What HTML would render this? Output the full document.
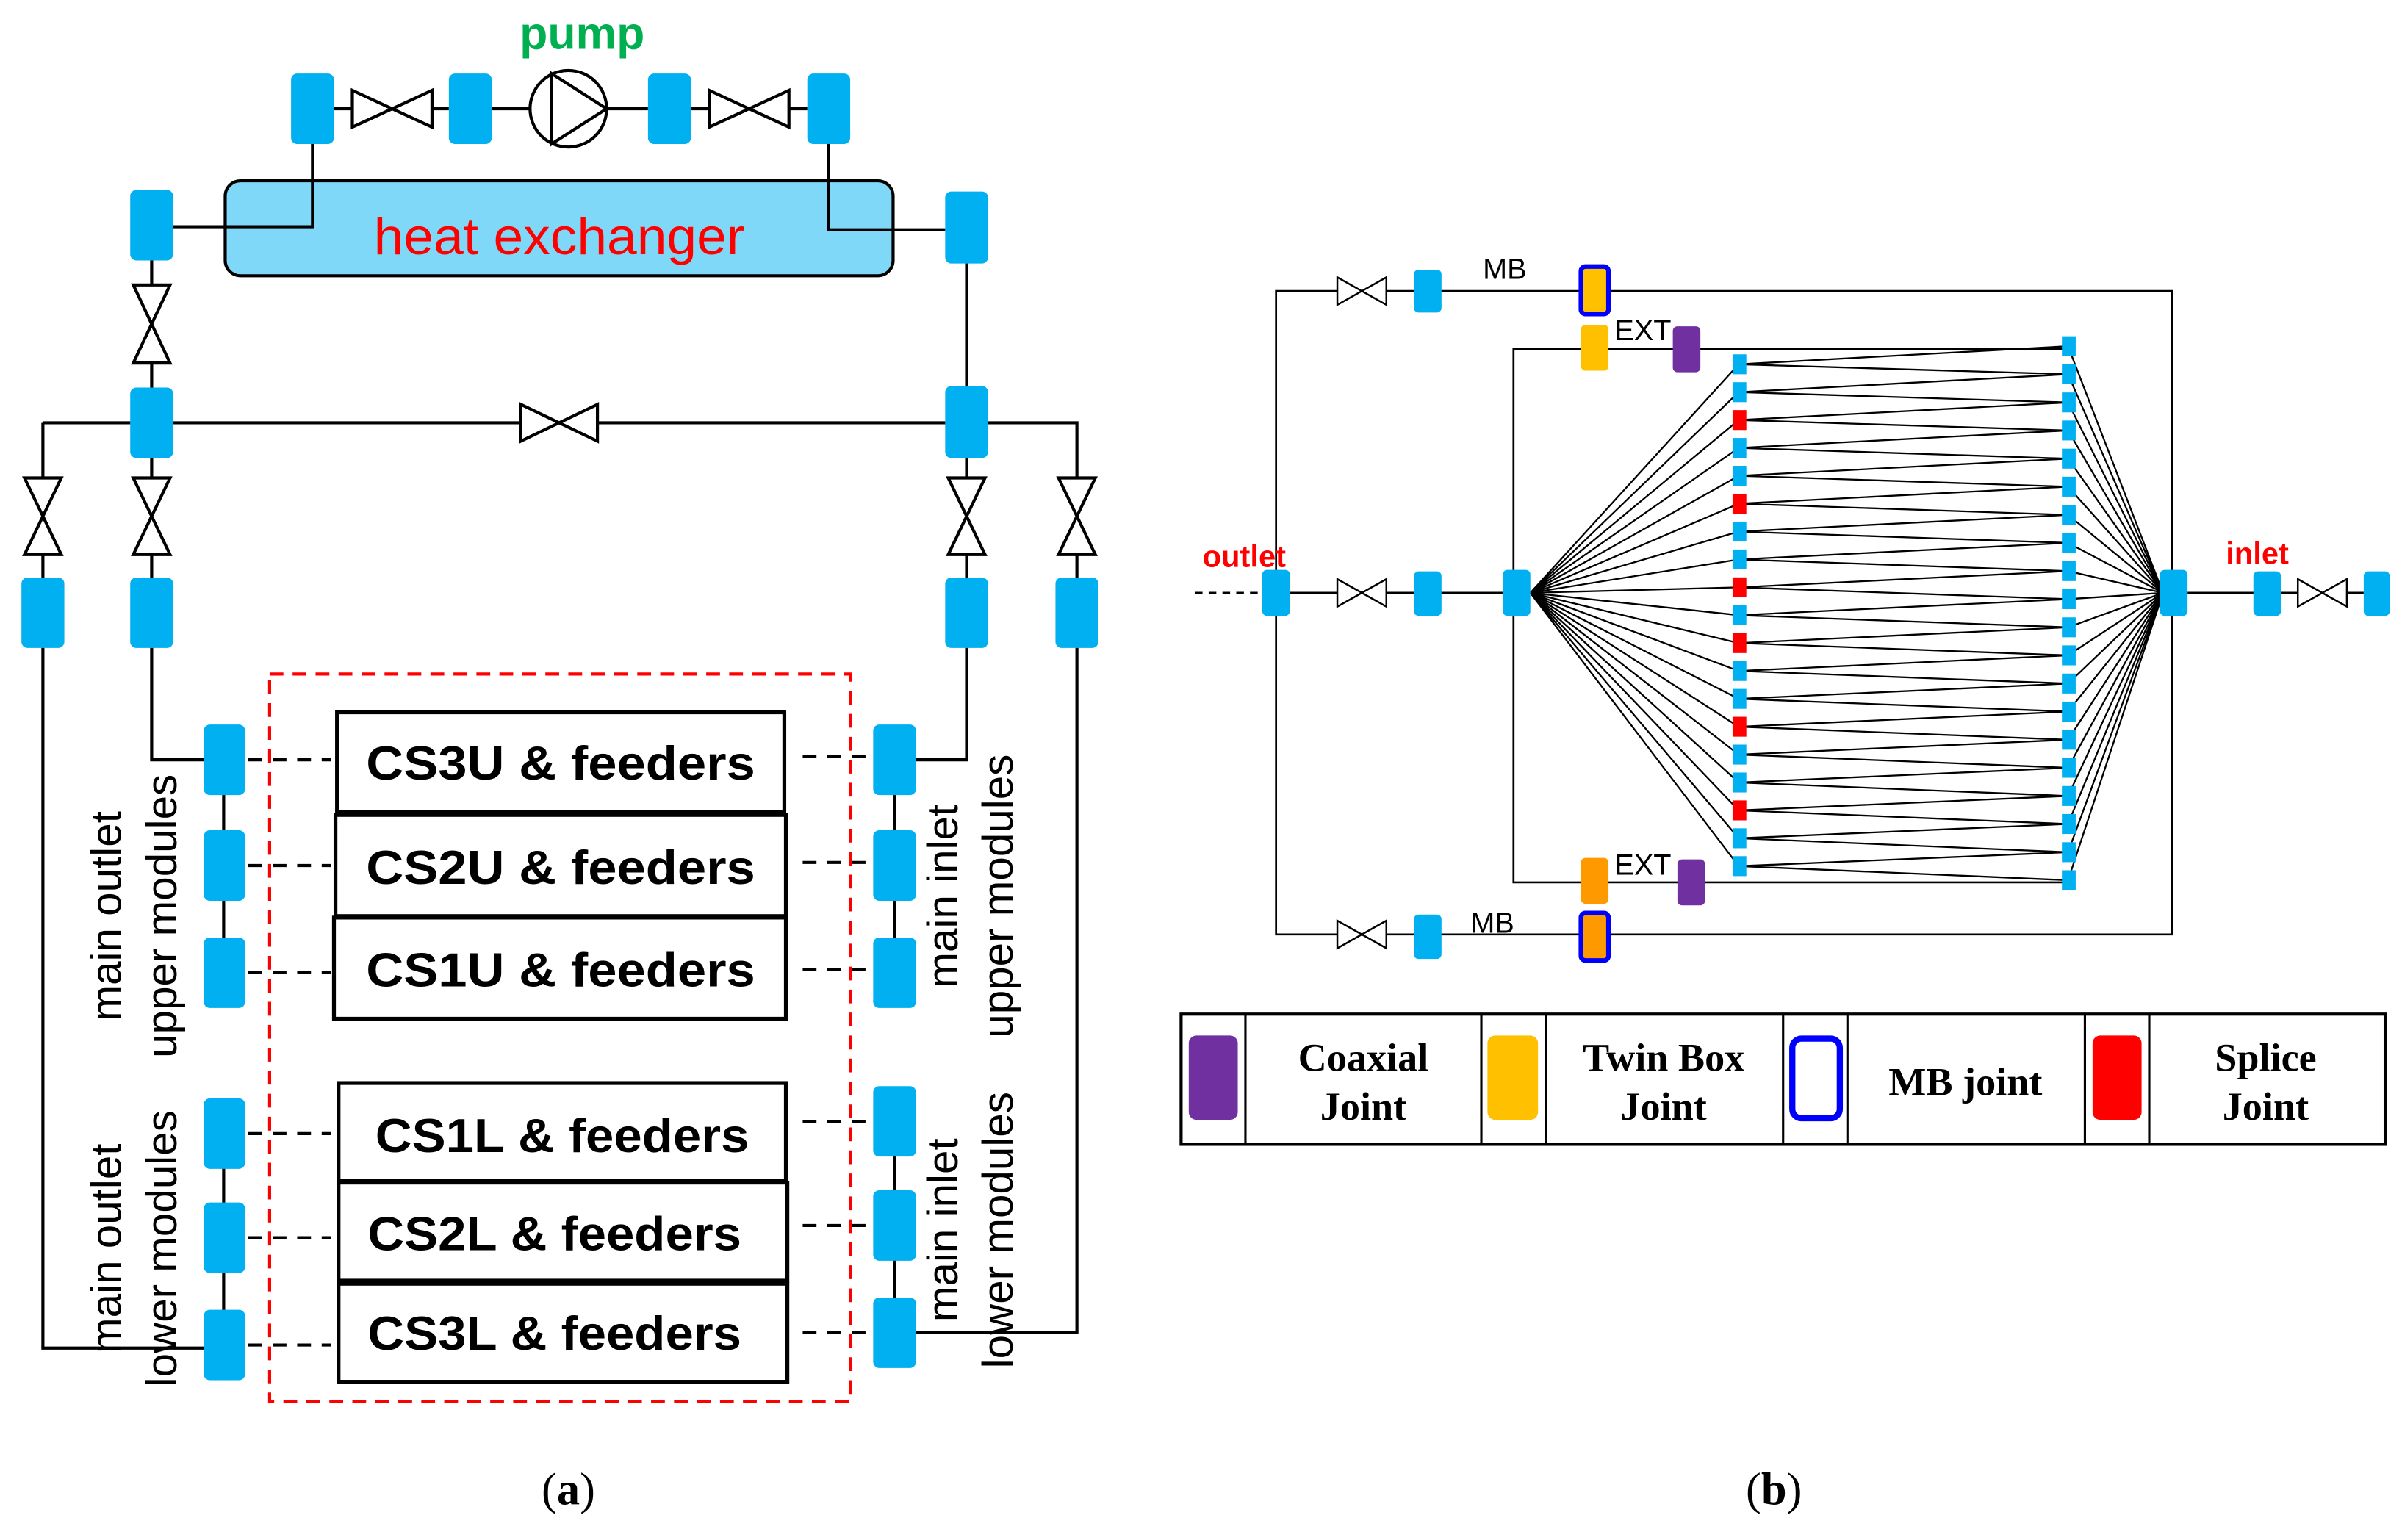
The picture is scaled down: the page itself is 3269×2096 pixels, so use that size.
<!DOCTYPE html>
<html><head><meta charset="utf-8"><style>html,body{margin:0;padding:0;background:#fff}svg{display:block}</style></head>
<body>
<svg xmlns="http://www.w3.org/2000/svg" width="3269" height="2096" viewBox="0 0 1568 1005.3" preserveAspectRatio="none">
<defs>
<style>
.b{fill:#00b0f0}
.ln{stroke:#000;stroke-width:2;fill:none}
.th{stroke:#000;stroke-width:1.3;fill:none}
.v{stroke:#000;stroke-width:2;fill:#fff}
.cs{font-family:"Liberation Sans",sans-serif;font-weight:bold;font-size:31px;text-anchor:middle}
.rl{font-family:"Liberation Sans",sans-serif;font-size:28px;text-anchor:middle}
.sm{font-family:"Liberation Sans",sans-serif;font-size:19px}
.lg{font-family:"Liberation Serif",serif;font-weight:bold;font-size:26px;text-anchor:middle}
</style>
</defs>
<rect width="1568" height="1005.3" fill="#fff"/>

<!-- ===== Panel (a) ===== -->
<text x="380" y="32" font-family="Liberation Sans,sans-serif" font-weight="bold" font-size="30" fill="#00b050" text-anchor="middle">pump</text>
<path class="ln" d="M218 71H293M321 71H346M396 71H423M451 71H527"/>
<path class="v" d="M230 59L282 83V59L230 83Z"/>
<path class="v" d="M463 59L515 83V59L463 83Z"/>
<circle cx="371" cy="71" r="25" fill="#fff" stroke="#000" stroke-width="2"/>
<path class="ln" d="M360 48V94L396 71Z"/>
<rect class="b" x="190" y="48" width="28" height="46" rx="4"/>
<rect class="b" x="293" y="48" width="28" height="46" rx="4"/>
<rect class="b" x="423" y="48" width="28" height="46" rx="4"/>
<rect class="b" x="527" y="48" width="28" height="46" rx="4"/>
<rect x="147" y="118" width="436" height="62" rx="10" fill="#80d8f8" stroke="#000" stroke-width="2"/>
<text x="365" y="166" font-family="Liberation Sans,sans-serif" font-size="34" fill="#ff0000" text-anchor="middle" textLength="242" lengthAdjust="spacingAndGlyphs">heat exchanger</text>
<path class="ln" d="M204 94V148H113M541 94V150H617"/>
<rect class="b" x="85" y="124" width="28" height="46" rx="4"/>
<path class="ln" d="M99 170V253"/>
<path class="v" d="M87 186L111 237H87L111 186Z"/>
<rect class="b" x="85" y="253" width="28" height="46" rx="4"/>
<rect class="b" x="617" y="125" width="28" height="47" rx="4"/>
<path class="ln" d="M631 172V253"/>
<rect class="b" x="617" y="252" width="28" height="47" rx="4"/>
<path class="ln" d="M28 276V377M28 276H85M113 276H340M390 276H617M645 276H703V377"/>
<path class="v" d="M340 264L390 288V264L340 288Z"/>
<path class="ln" d="M99 299V377M631 299V377"/>
<path class="v" d="M16 312L40 362H16L40 312Z"/>
<path class="v" d="M87 312L111 362H87L111 312Z"/>
<path class="v" d="M619 312L643 362H619L643 312Z"/>
<path class="v" d="M691 312L715 362H691L715 312Z"/>
<rect class="b" x="14" y="377" width="28" height="46" rx="4"/>
<rect class="b" x="85" y="377" width="28" height="46" rx="4"/>
<rect class="b" x="617" y="377" width="28" height="46" rx="4"/>
<rect class="b" x="689" y="377" width="28" height="46" rx="4"/>
<path class="ln" d="M28 423V880H133M99 423V496H133M631 423V496H598M703 423V870H598"/>
<path class="ln" d="M146 496V635M146 740V878M584 496V635M584 732V870"/>
<rect x="176" y="440" width="379" height="475" fill="none" stroke="#ff0000" stroke-width="2" stroke-dasharray="9,6"/>
<g stroke="#000" stroke-width="2" stroke-dasharray="9,7">
<path d="M162 496H216M162 565H216M162 635H216M162 740H216M162 808H216M162 878H216"/>
<path d="M524 494H568M524 563H568M524 633H568M524 732H568M524 800H568M524 870H568"/>
</g>
<g class="b">
<rect x="133" y="473" width="27" height="46" rx="4"/>
<rect x="133" y="542" width="27" height="46" rx="4"/>
<rect x="133" y="612" width="27" height="46" rx="4"/>
<rect x="133" y="717" width="27" height="46" rx="4"/>
<rect x="133" y="785" width="27" height="46" rx="4"/>
<rect x="133" y="855" width="27" height="46" rx="4"/>
<rect x="570" y="473" width="28" height="46" rx="4"/>
<rect x="570" y="542" width="28" height="46" rx="4"/>
<rect x="570" y="612" width="28" height="46" rx="4"/>
<rect x="570" y="709" width="28" height="46" rx="4"/>
<rect x="570" y="777" width="28" height="46" rx="4"/>
<rect x="570" y="847" width="28" height="46" rx="4"/>
</g>
<g fill="#fff" stroke="#000" stroke-width="2.5">
<rect x="220" y="465" width="292" height="65"/>
<rect x="219" y="532" width="294" height="66"/>
<rect x="218" y="599" width="295" height="66"/>
<rect x="221" y="707" width="292" height="64"/>
<rect x="221" y="772" width="293" height="64"/>
<rect x="221" y="838" width="293" height="64"/>
</g>
<text class="cs" x="366" y="509" textLength="254" lengthAdjust="spacingAndGlyphs">CS3U &amp; feeders</text>
<text class="cs" x="366" y="577" textLength="254" lengthAdjust="spacingAndGlyphs">CS2U &amp; feeders</text>
<text class="cs" x="366" y="644" textLength="254" lengthAdjust="spacingAndGlyphs">CS1U &amp; feeders</text>
<text class="cs" x="367" y="752" textLength="244" lengthAdjust="spacingAndGlyphs">CS1L &amp; feeders</text>
<text class="cs" x="362" y="816" textLength="244" lengthAdjust="spacingAndGlyphs">CS2L &amp; feeders</text>
<text class="cs" x="362" y="881" textLength="244" lengthAdjust="spacingAndGlyphs">CS3L &amp; feeders</text>
<text class="rl" transform="translate(79,598) rotate(-90)">main outlet</text>
<text class="rl" transform="translate(115,598) rotate(-90)">upper modules</text>
<text class="rl" transform="translate(79,815) rotate(-90)">main outlet</text>
<text class="rl" transform="translate(115,815) rotate(-90)">lower modules</text>
<text class="rl" transform="translate(625,585) rotate(-90)">main inlet</text>
<text class="rl" transform="translate(661,585) rotate(-90)">upper modules</text>
<text class="rl" transform="translate(625,803) rotate(-90)">main inlet</text>
<text class="rl" transform="translate(661,803) rotate(-90)">lower modules</text>
<text x="371" y="982" font-family="Liberation Serif,serif" font-size="30" text-anchor="middle">(<tspan font-weight="bold">a</tspan>)</text>
<text x="1158" y="982" font-family="Liberation Serif,serif" font-size="30" text-anchor="middle">(<tspan font-weight="bold">b</tspan>)</text>

<!-- ===== Panel (b) ===== -->
<path class="th" d="M873 190H833V610H873M905 190H1031M1050 190H1418V610H1050M1031 610H905"/>
<path class="th" d="M842 387H873M905 387H981"/>
<path d="M780 387H824" stroke="#000" stroke-width="1.3" stroke-dasharray="5,4"/>
<path class="th" d="M1350 228H988V576H1350"/>
<path class="th" d="M1428 387H1500M1532 387H1543"/>
<g stroke="#000" stroke-width="1.2" fill="#fff">
<path d="M873 181L905 199V181L873 199Z"/>
<path d="M873 378L905 396V378L873 396Z"/>
<path d="M873 601L905 619V601L873 619Z"/>
<path d="M1500 378L1532 396V378L1500 396Z"/>
</g>
<path stroke="#000" stroke-width="1.1" fill="none" d="M999 387L1135 237.8M999 387L1135 256M999 387L1135 274.2M999 387L1135 292.4M999 387L1135 310.6M999 387L1135 328.8M999 387L1135 347M999 387L1135 365.2M999 387L1135 383.4M999 387L1135 401.6M999 387L1135 419.8M999 387L1135 438M999 387L1135 456.2M999 387L1135 474.4M999 387L1135 492.6M999 387L1135 510.8M999 387L1135 529M999 387L1135 547.2M999 387L1135 565.4"/>
<path stroke="#000" stroke-width="1.1" fill="none" d="M1412 387L1350 226M1412 387L1350 244.3M1412 387L1350 262.7M1412 387L1350 281M1412 387L1350 299.4M1412 387L1350 317.7M1412 387L1350 336.1M1412 387L1350 354.4M1412 387L1350 372.8M1412 387L1350 391.1M1412 387L1350 409.5M1412 387L1350 427.8M1412 387L1350 446.2M1412 387L1350 464.5M1412 387L1350 482.9M1412 387L1350 501.2M1412 387L1350 519.6M1412 387L1350 537.9M1412 387L1350 556.3M1412 387L1350 574.6"/>
<polyline fill="none" stroke="#000" stroke-width="1.1" points="1350,226 1135,237.8 1350,244.3 1135,256 1350,262.7 1135,274.2 1350,281 1135,292.4 1350,299.4 1135,310.6 1350,317.7 1135,328.8 1350,336.1 1135,347 1350,354.4 1135,365.2 1350,372.8 1135,383.4 1350,391.1 1135,401.6 1350,409.5 1135,419.8 1350,427.8 1135,438 1350,446.2 1135,456.2 1350,464.5 1135,474.4 1350,482.9 1135,492.6 1350,501.2 1135,510.8 1350,519.6 1135,529 1350,537.9 1135,547.2 1350,556.3 1135,565.4 1350,574.6"/>
<g fill="#00b0f0">
<rect x="1131" y="231.3" width="9" height="13"/><rect x="1131" y="249.5" width="9" height="13"/>
<rect x="1131" y="285.9" width="9" height="13"/><rect x="1131" y="304.1" width="9" height="13"/>
<rect x="1131" y="340.5" width="9" height="13"/><rect x="1131" y="358.7" width="9" height="13"/>
<rect x="1131" y="395.1" width="9" height="13"/>
<rect x="1131" y="431.5" width="9" height="13"/><rect x="1131" y="449.7" width="9" height="13"/>
<rect x="1131" y="486.1" width="9" height="13"/><rect x="1131" y="504.3" width="9" height="13"/>
<rect x="1131" y="540.7" width="9" height="13"/><rect x="1131" y="558.9" width="9" height="13"/>
</g>
<g fill="#ff0000">
<rect x="1131" y="267.7" width="9" height="13"/><rect x="1131" y="322.3" width="9" height="13"/>
<rect x="1131" y="376.9" width="9" height="13"/><rect x="1131" y="413.3" width="9" height="13"/>
<rect x="1131" y="467.9" width="9" height="13"/><rect x="1131" y="522.5" width="9" height="13"/>
</g>
<g fill="#00b0f0">
<rect x="1346" y="219.5" width="9" height="13"/><rect x="1346" y="237.8" width="9" height="13"/>
<rect x="1346" y="256.2" width="9" height="13"/><rect x="1346" y="274.5" width="9" height="13"/>
<rect x="1346" y="292.9" width="9" height="13"/><rect x="1346" y="311.2" width="9" height="13"/>
<rect x="1346" y="329.6" width="9" height="13"/><rect x="1346" y="347.9" width="9" height="13"/>
<rect x="1346" y="366.3" width="9" height="13"/><rect x="1346" y="384.6" width="9" height="13"/>
<rect x="1346" y="403" width="9" height="13"/><rect x="1346" y="421.3" width="9" height="13"/>
<rect x="1346" y="439.7" width="9" height="13"/><rect x="1346" y="458" width="9" height="13"/>
<rect x="1346" y="476.4" width="9" height="13"/><rect x="1346" y="494.7" width="9" height="13"/>
<rect x="1346" y="513.1" width="9" height="13"/><rect x="1346" y="531.4" width="9" height="13"/>
<rect x="1346" y="549.8" width="9" height="13"/><rect x="1346" y="568.1" width="9" height="13"/>
</g>
<g fill="#00b0f0">
<rect x="923" y="176" width="18" height="28" rx="3"/>
<rect x="923" y="373" width="18" height="29" rx="3"/>
<rect x="923" y="597" width="18" height="29" rx="3"/>
<rect x="824" y="372" width="18" height="30" rx="3"/>
<rect x="981" y="372" width="18" height="30" rx="3"/>
<rect x="1410" y="372" width="18" height="30" rx="3"/>
<rect x="1471" y="373" width="18" height="29" rx="3"/>
<rect x="1543" y="373" width="17" height="29" rx="3"/>
</g>
<rect x="1032" y="174" width="18" height="31" rx="3" fill="#ffc000" stroke="#0000ff" stroke-width="3"/>
<rect x="1032" y="596" width="18" height="31" rx="3" fill="#ff9900" stroke="#0000ff" stroke-width="3"/>
<rect x="1032" y="212" width="18" height="30" rx="3" fill="#ffc000"/>
<rect x="1032" y="560" width="18" height="30" rx="3" fill="#ff9900"/>
<rect x="1092" y="213" width="18" height="30" rx="3" fill="#7030a0"/>
<rect x="1095" y="561" width="18" height="30" rx="3" fill="#7030a0"/>
<text class="sm" x="968" y="182">MB</text>
<text class="sm" x="960" y="609">MB</text>
<text class="sm" x="1054" y="222">EXT</text>
<text class="sm" x="1054" y="571">EXT</text>
<text x="785" y="370" font-family="Liberation Sans,sans-serif" font-weight="bold" font-size="20" fill="#ff0000">outlet</text>
<text x="1453" y="368" font-family="Liberation Sans,sans-serif" font-weight="bold" font-size="20" fill="#ff0000">inlet</text>
<rect x="771" y="662" width="786" height="85" fill="#fff" stroke="#000" stroke-width="2"/>
<path stroke="#000" stroke-width="1.5" d="M813 662V747M967 662V747M1009 662V747M1164 662V747M1206 662V747M1361 662V747M1403 662V747"/>
<rect x="776" y="676" width="32" height="55" rx="5" fill="#7030a0"/>
<rect x="971" y="676" width="33" height="55" rx="5" fill="#ffc000"/>
<rect x="1170" y="678" width="31" height="52" rx="6" fill="#fff" stroke="#0000ff" stroke-width="4"/>
<rect x="1366" y="676" width="32" height="55" rx="5" fill="#ff0000"/>
<text class="lg" x="890" y="699">Coaxial</text><text class="lg" x="890" y="731">Joint</text>
<text class="lg" x="1086" y="699">Twin Box</text><text class="lg" x="1086" y="731">Joint</text>
<text class="lg" x="1283" y="715">MB joint</text>
<text class="lg" x="1479" y="699">Splice</text><text class="lg" x="1479" y="731">Joint</text>
</svg>
</body></html>
